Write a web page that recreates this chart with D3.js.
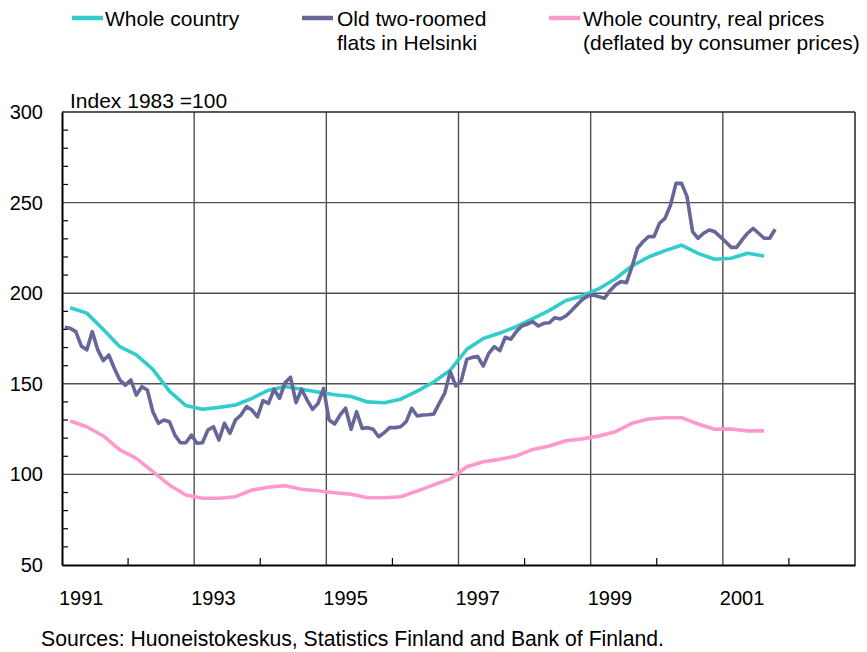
<!DOCTYPE html>
<html>
<head>
<meta charset="utf-8">
<script src="https://cdn.jsdelivr.net/npm/d3@7/dist/d3.min.js"></script>
<style>
  html, body { margin: 0; padding: 0; background: #fff; }
  svg text { font-family: "Liberation Sans", Arial, sans-serif; fill: #000; }
</style>
</head>
<body>
<svg id="chart" width="867" height="652"></svg>
<script>
// Housing price indices, 1983 = 100
const startYear = 1991;

// Whole country, quarterly
const wholeCountry = [
  192, 189, 180, 170.5,
  166, 158, 146, 138,
  136, 137, 138.3, 142,
  146.5, 148.5, 147, 145.5,
  144, 143, 140, 139.5,
  141.5, 146, 151, 157.5,
  169, 175, 178, 181.5,
  186, 190.5, 196, 198.5,
  202.5, 208, 215, 220,
  223.5, 226.5, 222, 218.7,
  219.3, 222, 220.5
];

// Old two-roomed flats in Helsinki, monthly
const helsinki = [
  181.2, 180.6, 178.8, 170.9, 168.7, 178.8, 168.7, 162.8, 165.9, 158.6, 152.1, 149.3,
  152.1, 143.8, 148.4, 146.6, 134.6, 128.2, 130.0, 129.1, 121.7, 117.5, 117.5, 121.7,
  117.2, 117.5, 124.5, 126.3, 119.0, 128.2, 122.7, 130.0, 132.8, 137.4, 135.5, 131.8,
  140.7, 139.2, 147.0, 142.0, 150.6, 153.6, 139.6, 147.0, 141.1, 135.9, 139.2, 147.5,
  130.0, 127.8, 132.8, 136.5, 124.9, 134.6, 125.4, 125.8, 124.9, 120.8, 123.0, 125.8,
  125.8, 126.3, 129.1, 136.5, 132.2, 132.8, 132.9, 133.3, 139.2, 144.8, 156.7, 148.8,
  151.7, 163.5, 164.6, 165.0, 159.8, 166.8, 170.5, 168.3, 175.7, 174.6, 178.8, 181.9,
  183.0, 184.3, 181.9, 183.4, 183.7, 186.5, 185.8, 187.4, 190.3, 193.5, 196.6, 198.5,
  199.0, 198.1, 197.2, 201.4, 204.5, 206.4, 205.8, 214.6, 224.8, 228.4, 231.2, 231.2,
  238.6, 241.3, 248.7, 260.6, 260.6, 253.3, 234.0, 230.3, 233.1, 234.9, 234.0, 231.2,
  228.4, 225.3, 225.3, 229.4, 233.1, 235.8, 233.1, 230.3, 230.3, 235.3
];

// Whole country, real prices (deflated by consumer prices), quarterly
const realPrices = [
  129.5, 126.3, 121.2, 113.5,
  108.9, 101.5, 94.2, 88.6,
  86.8, 86.8, 87.7, 91.4,
  92.9, 93.8, 91.8, 91.0,
  89.9, 89.0, 87.1, 87.1,
  87.7, 90.8, 94.2, 97.5,
  104.2, 107.0, 108.3, 110.2,
  113.8, 115.7, 118.6, 119.6,
  121.2, 123.6, 128.2, 130.6,
  131.3, 131.3, 127.8, 124.9,
  125.1, 124.0, 124.0
];

const yTicks = [50, 100, 150, 200, 250, 300];
const yMinorTicks = d3.range(60, 300, 10).filter(v => v % 50 !== 0);
const xLabelYears = [1991, 1993, 1995, 1997, 1999, 2001];
const xGridYears = [1993, 1995, 1997, 1999, 2001];
const xMinorYears = [1992, 1994, 1996, 1998, 2000, 2002];

const seriesNames = ["Whole country", ["Old two-roomed", "flats in Helsinki"],
  ["Whole country, real prices", "(deflated by consumer prices)"]];
const colors = ["#33cccc", "#666699", "#ff99cc"];

const svg = d3.select("#chart");
const plot = { left: 62, right: 855, top: 112, bottom: 565 };

const x = d3.scaleLinear().domain([1991, 2003]).range([plot.left, plot.right]);
const y = d3.scaleLinear().domain([50, 300]).range([plot.bottom, plot.top]);

// period midpoints
const quarterly = arr => arr.map((v, i) => ({ t: startYear + (i + 0.5) / 4, v }));
const monthly = arr => arr.map((v, i) => ({ t: startYear + (i + 0.5) / 12, v }));

// gridlines
const grid = svg.append("g");
grid.selectAll("line.h").data(yTicks.filter(v => v > 50 && v < 300)).join("line")
  .attr("x1", plot.left).attr("x2", plot.right)
  .attr("y1", d => y(d)).attr("y2", d => y(d))
  .attr("stroke", "#505050").attr("stroke-width", 1.4);
grid.selectAll("line.v").data(xGridYears).join("line")
  .attr("x1", d => x(d)).attr("x2", d => x(d))
  .attr("y1", plot.top).attr("y2", plot.bottom)
  .attr("stroke", "#505050").attr("stroke-width", 1.4);

// minor ticks
grid.selectAll("line.ym").data(yMinorTicks).join("line")
  .attr("x1", plot.left).attr("x2", plot.left + 6)
  .attr("y1", d => y(d)).attr("y2", d => y(d))
  .attr("stroke", "#000").attr("stroke-width", 1.2);
grid.selectAll("line.xm").data(xMinorYears).join("line")
  .attr("x1", d => x(d)).attr("x2", d => x(d))
  .attr("y1", plot.bottom).attr("y2", plot.bottom - 7)
  .attr("stroke", "#000").attr("stroke-width", 1.2);

// frame
svg.append("line").attr("x1", plot.left).attr("x2", plot.right)
  .attr("y1", plot.top).attr("y2", plot.top).attr("stroke", "#222").attr("stroke-width", 1.5);
svg.append("line").attr("x1", plot.right).attr("x2", plot.right)
  .attr("y1", plot.top).attr("y2", plot.bottom).attr("stroke", "#222").attr("stroke-width", 1.5);

// y axis
const yAxis = svg.append("g").attr("transform", `translate(${plot.left},0)`)
  .call(d3.axisLeft(y).tickValues(yTicks).tickSize(0).tickPadding(19).tickFormat(d3.format("d")));
yAxis.select(".domain").attr("stroke", "#000").attr("stroke-width", 2);
yAxis.selectAll("text").style("font-size", "20px")
  .style("font-family", "'Liberation Sans', Arial, sans-serif");

// x axis
const xAxis = svg.append("g").attr("transform", `translate(0,${plot.bottom})`)
  .call(d3.axisBottom(x).tickValues(xLabelYears).tickSize(0).tickPadding(0).tickFormat(d3.format("d")));
xAxis.select(".domain").attr("stroke", "#000").attr("stroke-width", 2);
xAxis.selectAll("text")
  .attr("text-anchor", "start").attr("dx", -3.5).attr("dy", 0).attr("y", 39.5)
  .style("font-size", "20px")
  .style("font-family", "'Liberation Sans', Arial, sans-serif");

// lines
const line = d3.line().x(d => x(d.t)).y(d => y(d.v));
const series = [quarterly(wholeCountry), monthly(helsinki), quarterly(realPrices)];
svg.append("g").selectAll("path").data(series).join("path")
  .attr("d", line)
  .attr("fill", "none")
  .attr("stroke", (d, i) => colors[i])
  .attr("stroke-width", 3.6)
  .attr("stroke-linejoin", "round");

// axis title
svg.append("text").attr("x", 70).attr("y", 108).style("font-size", "21px")
  .text("Index 1983 =100");

// legend
const legendItems = [
  { sx: 72, tx: 105 },
  { sx: 302, tx: 337 },
  { sx: 549, tx: 583 }
];
const legend = svg.append("g");
legendItems.forEach((it, i) => {
  legend.append("line").attr("x1", it.sx).attr("x2", it.sx + 31)
    .attr("y1", 18).attr("y2", 18)
    .attr("stroke", colors[i]).attr("stroke-width", 4.5);
  const lines = [].concat(seriesNames[i]);
  const t = legend.append("text").attr("x", it.tx).attr("y", 26).style("font-size", "21px");
  lines.forEach((s, k) => {
    t.append("tspan").attr("x", it.tx).attr("dy", k === 0 ? 0 : 24).text(s);
  });
});

// source note
svg.append("text").attr("x", 41).attr("y", 646).style("font-size", "21.2px")
  .text("Sources: Huoneistokeskus, Statistics Finland and Bank of Finland.");
</script>
</body>
</html>
